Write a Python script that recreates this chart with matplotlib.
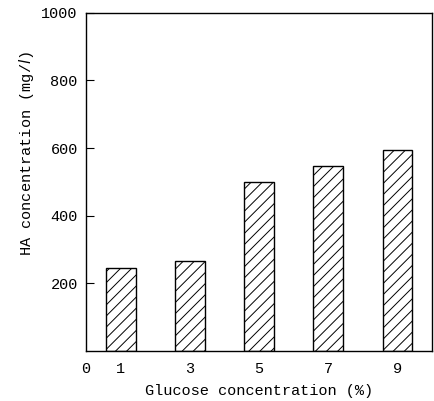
import matplotlib
matplotlib.use("Agg")
import matplotlib.pyplot as plt

# datos
glucosa = [1, 3, 5, 7, 9]
ha_conc = [246, 267, 500, 547, 594]
xticks = [0, 1, 3, 5, 7, 9]
yticks = [200, 400, 600, 800, 1000]

plt.rcParams['font.family'] = ['Liberation Mono', 'DejaVu Sans Mono']
plt.rcParams['hatch.linewidth'] = 0.7

fig = plt.figure(figsize=(4.35, 4.01), dpi=100)
ax = fig.add_axes([0.198, 0.125, 0.795, 0.843])

ax.bar(glucosa, ha_conc, width=0.86, color='white', edgecolor='black',
       linewidth=1.0, hatch='///')

ax.set_xlim(0, 10)
ax.set_ylim(0, 1000)
ax.set_xticks(xticks)
ax.set_xticklabels([str(v) for v in xticks])
ax.set_yticks(yticks)
ax.set_yticklabels([str(v) for v in yticks])
ax.tick_params(axis='x', length=0, pad=8, labelsize=11)
ax.tick_params(axis='y', direction='in', length=6, width=0.8, pad=6, labelsize=11)
for s in ax.spines.values():
    s.set_linewidth(1.0)

ax.set_xlabel("Glucose concentration (%)", fontsize=11, labelpad=6)
ax.set_ylabel("HA concentration (mg/$\\mathit{l}$)", fontsize=11)
ax.yaxis.set_label_coords(-0.145, 0.585)

fig.savefig("out.png", dpi=100)
